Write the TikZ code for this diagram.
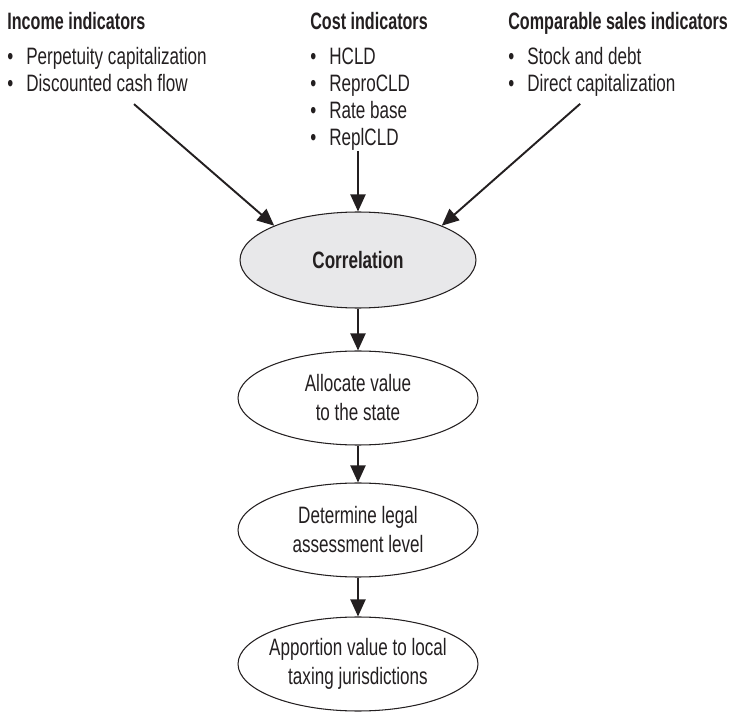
\documentclass[tikz,border=0pt]{standalone}
\usepackage{fontspec}
\setmainfont{Liberation Sans}[FakeStretch=0.72]
\newfontfamily\headfont{Liberation Sans}[FakeStretch=0.68]
\usepackage{tikz}
\usetikzlibrary{shapes.geometric,arrows.meta}

\definecolor{corrgray}{RGB}{232,232,234}
\definecolor{ink}{RGB}{35,31,32}
\newcommand{\bul}{\makebox[0.38cm][l]{\textbullet}}
\newcommand{\head}[1]{{\headfont\bfseries #1}}

\begin{document}
\begin{tikzpicture}[x=0.02cm,y=-0.02cm,
  list/.style={align=left,inner sep=0pt,anchor=north west,text=ink,
    font=\fontsize{13.5}{15.4}\selectfont},
  stage/.style={ellipse,draw=ink,line width=0.6pt,text=ink,align=center,
    minimum width=4.8cm,minimum height=1.88cm,inner xsep=-6pt,inner ysep=0pt,
    font=\fontsize{13.5}{16.5}\selectfont},
  flow/.style={-{Triangle[length=0.34cm,width=0.3cm]},line width=1.1pt,draw=ink}]
\useasboundingbox (0,0) rectangle (735,713);

\node (income) at (7,12) [list] {\head{Income indicators}\\[4.5pt]
  \bul Perpetuity capitalization\\
  \bul Discounted cash flow};

\node (cost) at (310,12) [list] {\head{Cost indicators}\\[4.5pt]
  \bul HCLD\\
  \bul ReproCLD\\
  \bul Rate base\\
  \bul ReplCLD};

\node (sales) at (508,12) [list] {\head{Comparable sales indicators}\\[4.5pt]
  \bul Stock and debt\\
  \bul Direct capitalization};

\node (corr) at (358,260) [stage,fill=corrgray,minimum width=4.72cm,minimum height=1.92cm] {\bfseries Correlation};
\node (alloc) at (358,398) [stage] {Allocate value\\to the state};
\node (determ) at (358,530) [stage] {Determine legal\\assessment level};
\node (apport) at (358,664) [stage] {Apportion value to local\\taxing jurisdictions};

\draw [flow] ([shift={(27,12)}]income.south) -- (corr.north west);
\draw [flow] (cost.south -| corr.north) -- (corr.north);
\draw [flow] ([shift={(-38,7)}]sales.south) -- (corr.north east);

\draw [flow] (corr) -- (alloc);
\draw [flow] (alloc) -- (determ);
\draw [flow] (determ) -- (apport);

\end{tikzpicture}
\end{document}
